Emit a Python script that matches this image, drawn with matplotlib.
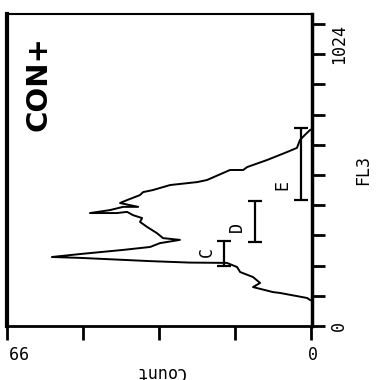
import matplotlib
matplotlib.use("Agg")
import matplotlib.pyplot as plt
import numpy as np

# FL3 histogram (chart is shown rotated 90 deg: FL3 runs up the right side,
# Count runs right-to-left along the bottom)
fl3_channel = [88, 95, 112, 115, 132, 146, 166, 183, 200, 214, 215, 220, 231,
               234, 244, 258, 268, 281, 292, 298, 315, 336, 353, 366, 376, 387,
               383, 383, 393, 404, 404, 417, 427, 444, 454, 461, 478, 488, 495,
               529, 529, 539, 563, 590, 604, 631, 648, 665]
fl3_count = [0.3, 1.3, 10.1, 12.4, 18.9, 16.6, 18.9, 23.1, 24.1, 27.4, 39.4,
             52.4, 75.2, 84.4, 75.2, 61.2, 52.4, 49.2, 42.7, 48.2, 50.2, 53.4,
             55.7, 55.0, 58.0, 59.9, 63.2, 72.0, 65.5, 61.2, 56.3, 62.2, 59.9,
             55.7, 54.7, 51.5, 45.9, 37.1, 33.9, 26.4, 22.1, 20.8, 14.3, 7.8,
             4.6, 3.6, 2.0, 0.3]

# region markers C, D, E
marker_names = ["C", "D", "E"]
marker_lo = [204, 286, 428]
marker_hi = [289, 425, 670]
marker_level = [28.3, 18.2, 3.3]
marker_label_pos = [(33.9, 251), (24.1, 336), (9.4, 478)]

count_ticks = [0, 24.75, 49.5, 74.25, 99]
count_ticklabels = ["0", "", "", "", "99"]
fl3_ticks = list(np.linspace(0, 1024, 11))
fl3_ticklabels = ["0"] + [""] * 9 + ["1024"]

mono = "DejaVu Sans Mono"

fig = plt.figure(figsize=(3.8, 3.8), dpi=100)
ax = fig.add_axes([7 / 380, 54 / 380, 305 / 380, 312 / 380])

ax.plot(fl3_count, fl3_channel, color="black", lw=1.4)

# gate bars
for name, lo, hi, lev, (lx, ly) in zip(marker_names, marker_lo, marker_hi,
                                       marker_level, marker_label_pos):
    mid = (lo + hi) / 2
    ax.errorbar([lev], [mid], yerr=[[mid - lo], [hi - mid]], fmt="none",
                ecolor="black", elinewidth=1.6, capsize=5, capthick=1.6)
    ax.text(lx, ly, name, rotation=90, ha="center", va="center",
            family=mono, fontsize=12)

ax.text(88.9, 824, "CON+", rotation=90, ha="center", va="center",
        fontsize=21, fontweight="bold", family="DejaVu Sans")

ax.set_xlim(99, -0.3)
ax.set_ylim(0, 1058)

# Count axis along the bottom
ax.set_xticks(count_ticks)
ax.set_xticklabels(count_ticklabels, rotation=180, family=mono, fontsize=12)
xl = ax.get_xticklabels()
xl[-1].set_ha("left")
ax.tick_params(axis="x", direction="out", length=10, width=2, pad=1)
ax.set_xlabel("Count", rotation=180, family=mono, fontsize=12, va="center")
ax.xaxis.set_label_coords(0.5, -0.148)

# FL3 axis along the right side
ax.yaxis.tick_right()
ax.yaxis.set_label_position("right")
ax.set_yticks(fl3_ticks)
ax.set_yticklabels(fl3_ticklabels, rotation=90, family=mono, fontsize=12)
yl = ax.get_yticklabels()
yl[0].set_va("center")
yl[-1].set_va("top")
ax.tick_params(axis="y", direction="out", length=9, width=2, pad=4)
ax.set_ylabel("FL3", rotation=90, family=mono, fontsize=12, ha="center",
              va="center")
ax.yaxis.set_label_coords(1.167, 0.5)

ax.spines["left"].set_linewidth(3)
ax.spines["bottom"].set_linewidth(2)
ax.spines["right"].set_linewidth(2.5)
ax.spines["top"].set_linewidth(1.5)

fig.savefig("out.png", dpi=100)
